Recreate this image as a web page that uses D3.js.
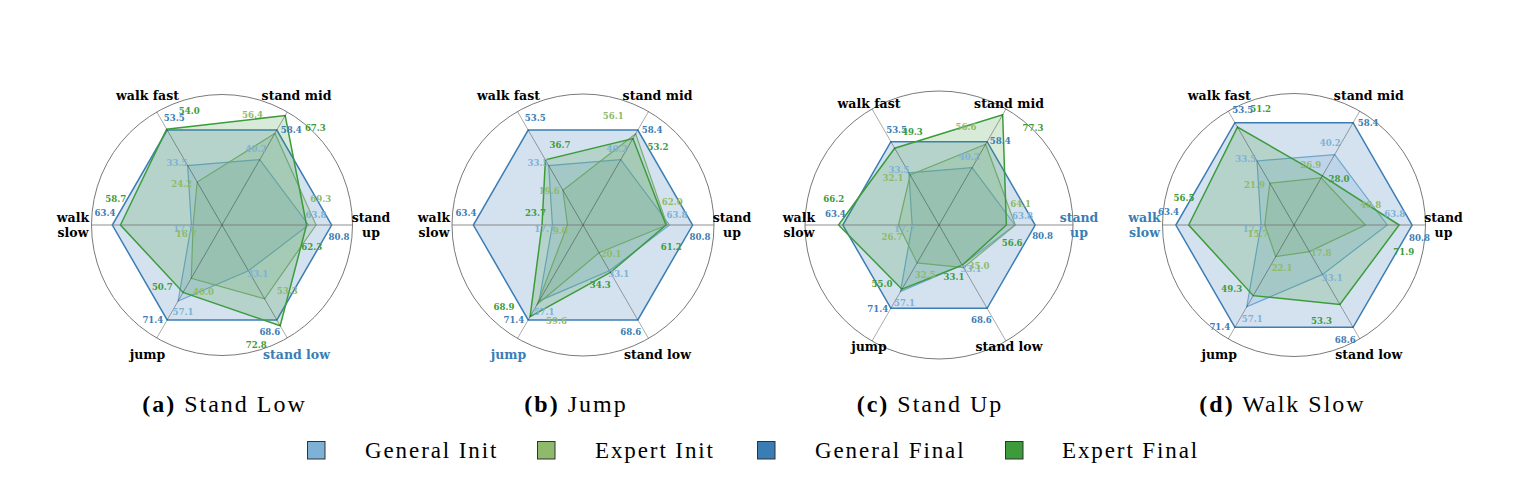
<!DOCTYPE html>
<html>
<head>
<meta charset="utf-8">
<script src="https://cdn.jsdelivr.net/npm/d3@7"></script>
<style>
  html, body { margin: 0; padding: 0; background: #fff; }
  svg { display: block; }
</style>
</head>
<body>
<svg id="chart" width="1516" height="489"></svg>
<script>
// ---------------- DATA ----------------
const axisNames = ["stand up", "stand mid", "walk fast", "walk slow", "jump", "stand low"];
const axisLabelLines = [["stand", "up"], ["stand mid"], ["walk fast"], ["walk", "slow"], ["jump"], ["stand low"]];
const seriesNames = ["General Init", "Expert Init", "General Final", "Expert Final"];
const taskLetters = ["(a)", "(b)", "(c)", "(d)"];
const taskTitles = ["Stand Low", "Jump", "Stand Up", "Walk Slow"];
const taskAxis = ["stand low", "jump", "stand up", "walk slow"];

// values per axis in axisNames order
const generalInit  = [63.8, 40.2, 33.5, 17.7, 57.1, 33.1];
const generalFinal = [80.8, 58.4, 53.5, 63.4, 71.4, 68.6];

const expertInitStandLow  = [69.3, 56.4, 24.2, 16.7, 40.0, 53.3];
const expertFinalStandLow = [62.3, 67.3, 54.0, 58.7, 50.7, 72.8];
const expertInitJump      = [62.0, 56.1, 19.6,  9.0, 59.6, 20.1];
const expertFinalJump     = [61.2, 53.2, 36.7, 23.7, 68.9, 34.3];
const expertInitStandUp   = [64.1, 56.6, 32.1, 26.7, 32.5, 35.0];
const expertFinalStandUp  = [56.6, 77.3, 49.3, 66.2, 55.0, 33.1];
const expertInitWalkSlow  = [48.8, 26.9, 21.9, 15.7, 22.1, 17.8];
const expertFinalWalkSlow = [71.9, 28.0, 51.2, 56.5, 49.3, 53.3];

const expertInit  = [expertInitStandLow, expertInitJump, expertInitStandUp, expertInitWalkSlow];
const expertFinal = [expertFinalStandLow, expertFinalJump, expertFinalStandUp, expertFinalWalkSlow];

// ---------------- LAYOUT / STYLE ----------------
const colors = ["#7eb1d6", "#8fba6b", "#3a7db5", "#3c9c3c"];
const fillOpacity = [0.22, 0.22, 0.22, 0.2];
const strokeWidth = [1.2, 1.2, 1.5, 1.5];
const labelAngleOffset = [6, 14.5, -6, -14]; // degrees
const centersX = [222, 583, 939, 1294];
const centerY = 225;
const circleR = [130.5, 131, 134, 131.5];
const radialMax = [1.19, 1.195, 1.393, 1.113];
const labelR = [149, 149, 140, 149.5];
const titleX = [224.5, 576, 930, 1282.5];

const svg = d3.select("#chart");
const angle = d3.scaleLinear().domain([0, axisNames.length]).range([0, 2 * Math.PI]);
const deg = Math.PI / 180;

function pt(a, r) { return [r * Math.cos(a), -r * Math.sin(a)]; }

taskTitles.forEach((task, ci) => {
  const g = svg.append("g").attr("transform", `translate(${centersX[ci]},${centerY})`);
  const r = d3.scaleLinear().domain([0, radialMax[ci]]).range([0, circleR[ci]]);
  const seriesData = [generalInit, expertInit[ci], generalFinal, expertFinal[ci]];
  const norm = (vals) => vals.map((v, j) => v / generalFinal[j]);

  // outer circle
  g.append("circle").attr("r", circleR[ci]).attr("fill", "none")
    .attr("stroke", "#7a7a7a").attr("stroke-width", 1);

  const line = d3.lineRadial()
    .angle((d, j) => Math.PI / 2 - angle(j))
    .radius(d => r(d))
    .curve(d3.curveLinearClosed);

  seriesData.forEach((vals, si) => {
    g.append("path").attr("d", line(norm(vals)))
      .attr("fill", colors[si]).attr("fill-opacity", fillOpacity[si])
      .attr("stroke", colors[si]).attr("stroke-width", strokeWidth[si])
      .attr("stroke-linejoin", "miter");
  });

  // spokes
  axisNames.forEach((name, j) => {
    const [x, y] = pt(angle(j), circleR[ci]);
    const horiz = (j === 0 || j === 3);
    g.append("line").attr("x1", 0).attr("y1", 0).attr("x2", x).attr("y2", y)
      .attr("stroke", horiz ? "rgba(120,120,120,0.55)" : "rgba(0,0,0,0.42)")
      .attr("stroke-width", horiz ? 1.5 : 0.8);
  });

  // value labels
  seriesData.forEach((vals, si) => {
    norm(vals).forEach((nv, j) => {
      const [x, y] = pt(angle(j) + labelAngleOffset[si] * deg, r(nv) + 8);
      g.append("text").attr("x", x).attr("y", y)
        .attr("text-anchor", "middle").attr("dominant-baseline", "central")
        .attr("font-family", "DejaVu Serif").attr("font-weight", "bold")
        .attr("font-size", 8.6).attr("fill", colors[si])
        .text(vals[j].toFixed(1));
    });
  });

  // axis labels
  axisNames.forEach((name, j) => {
    const [x, y] = pt(angle(j), labelR[ci]);
    const lines = axisLabelLines[j];
    const lh = 15;
    const t = g.append("text").attr("x", x).attr("text-anchor", "middle")
      .attr("font-family", "DejaVu Serif").attr("font-weight", "bold")
      .attr("font-size", 12.5)
      .attr("fill", name === taskAxis[ci] ? "#3a7db5" : "#000");
    lines.forEach((ln, k) => {
      t.append("tspan").attr("x", x)
        .attr("y", y + (k - (lines.length - 1) / 2) * lh)
        .attr("dominant-baseline", "central").text(ln);
    });
  });

  // title
  const tt = svg.append("text").attr("x", titleX[ci]).attr("y", 412)
    .attr("text-anchor", "middle").attr("font-family", "Liberation Serif")
    .attr("font-size", 24).attr("letter-spacing", 2).attr("fill", "#000");
  tt.append("tspan").attr("font-weight", "bold").text(taskLetters[ci]);
  tt.append("tspan").text(" " + task);
});

// legend
const legendSquareX = [307, 537, 757, 1005];
const legendTextX = [365, 595, 815, 1062];
seriesNames.forEach((name, si) => {
  svg.append("rect").attr("x", legendSquareX[si] + 0.5).attr("y", 441.5)
    .attr("width", 17.5).attr("height", 17.5)
    .attr("fill", colors[si]).attr("stroke", "#333").attr("stroke-width", 1);
  svg.append("text").attr("x", legendTextX[si]).attr("y", 458)
    .attr("font-family", "Liberation Serif").attr("font-size", 23)
    .attr("letter-spacing", 1.9).attr("fill", "#000").text(name);
});
</script>
</body>
</html>
